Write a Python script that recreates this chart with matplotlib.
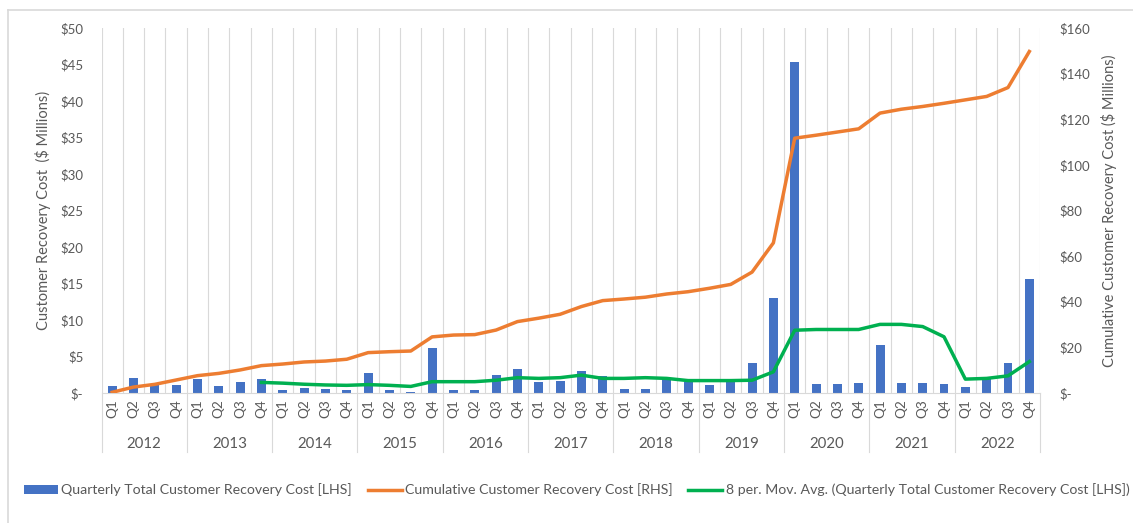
import matplotlib
matplotlib.use('Agg')
import matplotlib.pyplot as plt
from matplotlib.patches import Patch
from matplotlib.lines import Line2D
from matplotlib.ticker import FuncFormatter, MultipleLocator
import numpy as np

plt.rcParams['font.family'] = ['Lato', 'DejaVu Sans']

# --- data ($ millions) ---
years = ['2012', '2013', '2014', '2015', '2016', '2017',
         '2018', '2019', '2020', '2021', '2022']
quarters = ['Q1', 'Q2', 'Q3', 'Q4']

quarterly_cost = [
    1.0, 2.0, 1.2, 1.1,      # 2012
    1.9, 0.9, 1.5, 1.9,      # 2013
    0.4, 0.7, 0.5, 0.4,      # 2014
    2.7, 0.4, 0.2, 6.2,      # 2015
    0.4, 0.4, 2.4, 3.3,      # 2016
    1.5, 1.6, 3.0, 2.3,      # 2017
    0.6, 0.6, 1.9, 1.5,      # 2018
    1.1, 1.5, 4.1, 13.0,     # 2019
    45.3, 1.3, 1.3, 1.4,     # 2020
    6.6, 1.4, 1.4, 1.3,      # 2021
    0.8, 2.0, 4.1, 15.6,     # 2022
]

cumulative_cost = [
    0.3, 2.6, 3.8, 5.7,
    7.6, 8.6, 10.1, 12.0,
    12.7, 13.6, 14.0, 14.8,
    17.7, 18.1, 18.4, 24.6,
    25.4, 25.6, 27.6, 31.3,
    32.8, 34.5, 37.9, 40.5,
    41.2, 42.0, 43.4, 44.4,
    45.9, 47.6, 53.0, 65.8,
    111.7, 113.0, 114.4, 115.8,
    122.7, 124.4, 125.6, 127.0,
    128.5, 130.0, 133.9, 149.7,
]

# 8-period moving average, first value at Q4 2013
moving_avg_8 = [np.nan] * 7 + [
    1.45,
    1.35, 1.2, 1.1, 1.05,
    1.15, 1.05, 0.9, 1.55,
    1.55, 1.55, 1.75, 2.1,
    2.0, 2.1, 2.45, 2.0,
    2.0, 2.1, 2.0, 1.7,
    1.7, 1.7, 1.75, 2.9,
    8.6, 8.7, 8.7, 8.7,
    9.4, 9.4, 9.1, 7.7,
    1.9, 2.0, 2.35, 4.3,
]

BLUE = '#4472C4'
ORANGE = '#ED7D31'
GREEN = '#00B050'
GRID = '#D9D9D9'
TXT = '#595959'


def dollars(v, _pos):
    return '$-' if abs(v) < 1e-9 else f'${v:,.0f}'


x = np.arange(len(quarterly_cost))

fig = plt.figure(figsize=(11.33, 5.23), dpi=100)
ax = fig.add_axes([101.5 / 1133, 1 - 393 / 523, (1040 - 101.5) / 1133, 365 / 523])
ax2 = ax.twinx()

# vertical gridlines at every category boundary
for b in np.arange(-0.5, len(x), 1.0):
    ax.axvline(b, color=GRID, lw=0.8, zorder=0)

ax.bar(x, quarterly_cost, width=0.42, color=BLUE, zorder=2)
ax.plot(x, moving_avg_8, color=GREEN, lw=2.5, zorder=3, solid_joinstyle='round')
ax2.plot(x, cumulative_cost, color=ORANGE, lw=2.5, solid_joinstyle='round')

ax.set_xlim(-0.5, len(x) - 0.5)
ax.set_ylim(0, 50)
ax2.set_ylim(0, 160)
ax.yaxis.set_major_locator(MultipleLocator(5))
ax2.yaxis.set_major_locator(MultipleLocator(20))
ax.yaxis.set_major_formatter(FuncFormatter(dollars))
ax2.yaxis.set_major_formatter(FuncFormatter(dollars))

for a in (ax, ax2):
    for s in a.spines.values():
        s.set_visible(False)
    a.tick_params(length=0, labelsize=9.5, labelcolor=TXT)
ax.spines['bottom'].set_visible(True)
ax.spines['bottom'].set_color(GRID)
ax.tick_params(axis='y', pad=13)
ax2.tick_params(axis='y', pad=14)
for lbl in ax2.get_yticklabels():
    lbl.set_ha('left')
ax.set_xticks([])

ax.set_ylabel('Customer Recovery Cost  ($ Millions)', color=TXT, fontsize=10.5, labelpad=7)
ax2.set_ylabel('Cumulative Customer Recovery Cost ($ Millions)', color=TXT, fontsize=10.5, labelpad=8)

# two-level category axis: quarters above, years below
trans = ax.get_xaxis_transform()
for i in x:
    ax.text(i, -0.018, quarters[i % 4], transform=trans, rotation=90,
            ha='center', va='top', fontsize=9.8, color=TXT)
for k, yr in enumerate(years):
    ax.text(4 * k + 1.5, -0.14, yr, transform=trans, ha='center', va='center',
            fontsize=10.8, color=TXT)
for b in np.arange(-0.5, len(x), 4.0):
    ax.plot([b, b], [0, -0.162], transform=trans, color=GRID, lw=0.8, clip_on=False)

# chart area outline (left and top edges)
fig.add_artist(Line2D([8 / 1133, 8 / 1133], [0, 1 - 10 / 523], color=GRID, lw=1.2))
fig.add_artist(Line2D([8 / 1133, 1], [1 - 10 / 523, 1 - 10 / 523], color=GRID, lw=1.2))

handles = [
    Patch(facecolor=BLUE, edgecolor='none'),
    Line2D([], [], color=ORANGE, lw=2.5),
    Line2D([], [], color=GREEN, lw=2.5),
]
labels = [
    'Quarterly Total Customer Recovery Cost [LHS]',
    'Cumulative Customer Recovery Cost [RHS]',
    '8 per. Mov. Avg. (Quarterly Total Customer Recovery Cost [LHS])',
]
leg = fig.legend(handles, labels, loc='center', bbox_to_anchor=(0.509, 1 - 490 / 523),
                 ncol=3, frameon=False, fontsize=10.2, handlelength=2.4, handleheight=0.6,
                 handletextpad=0.25, columnspacing=1.1)
for t in leg.get_texts():
    t.set_color(TXT)

fig.savefig('out.png', dpi=100)
